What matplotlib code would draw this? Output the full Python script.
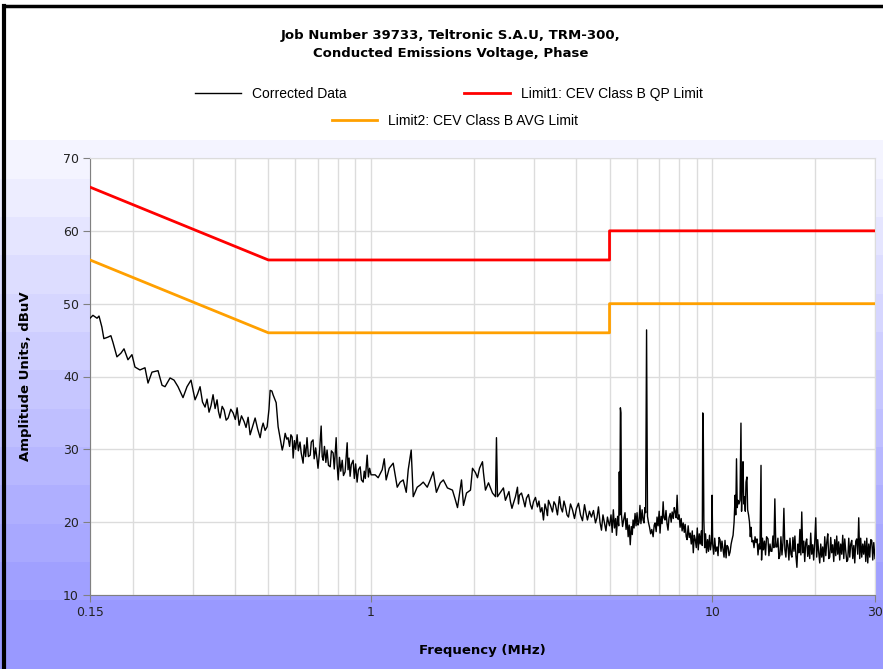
import matplotlib
matplotlib.use("Agg")
import matplotlib.pyplot as plt
import numpy as np

# Corrected data (MHz, dBuV)
low_freq = [0.150, 0.153, 0.1573, 0.1594, 0.1625, 0.1647, 0.1692, 0.1727, 0.1751, 0.1799,
            0.1848, 0.1887, 0.1938, 0.1991, 0.2032, 0.2101, 0.2174, 0.2219, 0.2279, 0.2374,
            0.2439, 0.2489, 0.2575, 0.2645, 0.2717, 0.2810, 0.2887, 0.2966, 0.3048, 0.3100,
            0.3153, 0.3205, 0.3261, 0.3305, 0.3350, 0.3395, 0.3442, 0.3490, 0.3536, 0.3570,
            0.3609, 0.3660, 0.3708, 0.3760, 0.3810, 0.3880, 0.3941, 0.4000, 0.4049, 0.4104,
            0.4170, 0.4245, 0.4300, 0.4361, 0.4420, 0.4500, 0.4572, 0.4650, 0.4730, 0.4780,
            0.4826, 0.4890, 0.4958, 0.5020]
low_dbuv = [48.0, 48.4, 48.0, 48.3, 46.8, 45.2, 45.4, 45.6, 44.7, 42.7,
            43.2, 43.8, 42.3, 43.0, 41.3, 40.9, 41.2, 39.1, 40.6, 40.8,
            38.8, 38.6, 39.8, 39.5, 38.6, 37.1, 38.6, 39.5, 36.8, 37.6,
            38.6, 36.5, 35.8, 36.9, 35.1, 36.0, 37.5, 35.6, 36.8, 35.2,
            34.3, 35.9, 35.4, 34.0, 34.3, 35.5, 35.0, 34.1, 35.7, 33.3,
            34.6, 33.8, 33.0, 34.4, 32.0, 33.2, 34.3, 32.8, 31.6, 32.9,
            33.6, 32.6, 33.1, 35.5]

mid_freq = [0.506, 0.512, 0.516, 0.522, 0.527, 0.534, 0.541, 0.549, 0.553, 0.560,
            0.566, 0.571, 0.577, 0.582, 0.587, 0.591, 0.596, 0.601, 0.607, 0.612,
            0.619, 0.624, 0.632, 0.637, 0.643, 0.649, 0.655, 0.663, 0.668, 0.676,
            0.681, 0.688, 0.695, 0.699, 0.706, 0.714, 0.719, 0.724, 0.730, 0.737,
            0.743, 0.750, 0.759, 0.765, 0.774, 0.780, 0.786, 0.790, 0.795, 0.801,
            0.808, 0.815, 0.823, 0.830, 0.839, 0.845, 0.851, 0.856, 0.862, 0.868,
            0.875, 0.886, 0.893, 0.901, 0.910, 0.918, 0.929, 0.937, 0.948, 0.955,
            0.962, 0.974, 0.982, 0.990, 1.000]
mid_dbuv = [38.1, 38.0, 37.5, 36.9, 36.4, 33.1, 31.6, 29.9, 30.5, 32.2,
            31.4, 31.6, 30.4, 32.0, 31.7, 28.8, 31.2, 30.0, 32.0, 29.8,
            31.0, 29.5, 28.1, 30.6, 29.0, 31.6, 29.0, 29.2, 31.0, 31.3,
            28.7, 30.2, 28.5, 27.4, 29.6, 33.2, 29.0, 28.5, 30.4, 28.2,
            29.9, 27.8, 27.6, 29.8, 29.5, 27.3, 30.0, 31.6, 28.0, 25.8,
            28.9, 27.0, 28.5, 26.4, 26.9, 29.0, 30.9, 27.2, 28.8, 26.3,
            27.9, 28.5, 26.0, 28.0, 25.5, 27.2, 27.6, 25.8, 25.5, 27.0,
            26.0, 29.2, 26.2, 27.4, 26.5]

one_five_freq = [1.028, 1.049, 1.078, 1.093, 1.107, 1.130, 1.161, 1.193, 1.217, 1.242,
                 1.268, 1.285, 1.311, 1.329, 1.365, 1.393, 1.422, 1.461, 1.491, 1.522,
                 1.554, 1.596, 1.629, 1.674, 1.732, 1.768, 1.792, 1.841, 1.866, 1.904,
                 1.956, 1.983, 2.023, 2.051, 2.079, 2.121, 2.135, 2.164, 2.209, 2.269,
                 2.316, 2.331, 2.347, 2.394, 2.443, 2.476, 2.510, 2.536, 2.562, 2.588,
                 2.614, 2.650, 2.686, 2.704, 2.722, 2.760, 2.797, 2.826, 2.854, 2.893,
                 2.932, 2.962, 2.992, 3.033, 3.074, 3.105, 3.137, 3.169, 3.201, 3.234,
                 3.267, 3.289, 3.311, 3.356, 3.402, 3.436, 3.471, 3.518, 3.566, 3.602,
                 3.639, 3.676, 3.714, 3.752, 3.790, 3.842, 3.894, 3.947, 4.000, 4.055,
                 4.110, 4.166, 4.223, 4.265, 4.307, 4.366, 4.425, 4.486, 4.547, 4.593,
                 4.640, 4.688, 4.735, 4.783, 4.831, 4.880, 4.930, 4.965]
one_five_dbuv = [26.5, 26.1, 27.2, 28.7, 25.8, 27.4, 28.1, 24.8, 25.5, 25.8,
                 24.1, 27.2, 29.9, 23.5, 24.8, 25.1, 25.5, 24.8, 25.8, 26.9,
                 24.1, 25.4, 25.8, 24.7, 24.4, 23.0, 22.0, 25.8, 22.3, 24.0,
                 24.4, 27.4, 26.8, 26.1, 27.4, 28.3, 26.8, 24.4, 25.4, 24.0,
                 23.5, 31.6, 23.5, 24.1, 24.7, 23.0, 23.7, 24.2, 22.8, 21.9,
                 22.6, 23.5, 24.8, 22.5, 23.7, 24.0, 23.0, 22.1, 23.3, 23.8,
                 22.4, 21.8, 22.8, 23.4, 22.1, 22.9, 21.4, 22.0, 20.3, 22.5,
                 21.7, 20.9, 23.0, 22.3, 21.4, 22.8, 22.4, 21.0, 23.5, 22.0,
                 21.4, 22.9, 22.1, 21.0, 20.7, 22.5, 21.7, 20.5, 21.9, 22.6,
                 21.0, 20.2, 22.4, 21.3, 20.3, 21.5, 20.7, 21.6, 19.9, 20.6,
                 22.1, 20.0, 18.9, 21.0, 19.9, 18.8, 20.7, 20.0]

five_ten_freq = [5.00, 5.05, 5.09, 5.13, 5.17, 5.21, 5.24, 5.28, 5.32, 5.34,
                 5.36, 5.38, 5.40, 5.42, 5.46, 5.50, 5.55, 5.59, 5.63, 5.67,
                 5.71, 5.75, 5.79, 5.83, 5.86, 5.90, 5.94, 5.98, 6.02, 6.06,
                 6.10, 6.14, 6.18, 6.23, 6.27, 6.31, 6.35, 6.38, 6.42, 6.44,
                 6.46, 6.50, 6.55, 6.60, 6.65, 6.71, 6.76, 6.80, 6.85, 6.89,
                 6.94, 6.99, 7.03, 7.08, 7.13, 7.18, 7.22, 7.27, 7.32, 7.37,
                 7.42, 7.47, 7.53, 7.58, 7.63, 7.69, 7.74, 7.79, 7.84, 7.89,
                 7.94, 8.00, 8.05, 8.11, 8.16, 8.22, 8.28, 8.33, 8.39, 8.44,
                 8.50, 8.56, 8.62, 8.68, 8.74, 8.80, 8.86, 8.92, 8.98, 9.04,
                 9.10, 9.16, 9.22, 9.29, 9.35, 9.38, 9.41, 9.45, 9.50, 9.56,
                 9.62, 9.69, 9.75, 9.82, 9.88, 9.95, 9.99]
five_ten_dbuv = [19.5, 21.0, 18.6, 21.7, 19.2, 20.5, 18.2, 20.8, 19.5, 26.9,
                 21.0, 35.7, 35.0, 21.0, 19.4, 20.3, 21.3, 19.0, 20.5, 18.0,
                 19.6, 16.9, 19.4, 18.3, 20.3, 19.2, 21.2, 19.5, 21.3, 19.6,
                 20.0, 22.3, 19.8, 21.7, 20.3, 19.9, 22.0, 21.3, 46.4, 33.3,
                 20.8, 20.0, 19.3, 18.4, 19.0, 18.0, 19.6, 19.9, 18.7, 20.7,
                 19.5, 21.5, 18.5, 20.8, 19.8, 22.8, 20.6, 20.3, 21.6, 19.8,
                 18.9, 20.6, 21.2, 20.0, 21.4, 20.5, 22.0, 21.4, 20.6, 23.7,
                 20.4, 21.0, 19.3, 20.5, 18.8, 19.9, 18.6, 19.7, 18.0, 17.6,
                 19.5, 17.9, 18.5, 17.0, 18.8, 15.8, 18.2, 17.6, 16.5, 19.2,
                 16.2, 18.4, 17.0, 18.8, 16.8, 35.0, 34.3, 20.3, 16.5, 18.4,
                 15.8, 17.6, 16.0, 18.2, 16.2, 17.3, 23.7]

high_freq = [10.03, 10.10, 10.17, 10.24, 10.33, 10.40, 10.47, 10.54, 10.61, 10.68,
             10.76, 10.83, 10.90, 10.98, 11.05, 11.13, 11.20, 11.28, 11.36, 11.43,
             11.51, 11.59, 11.67, 11.72, 11.78, 11.84, 11.90, 11.98, 12.06, 12.14,
             12.19, 12.25, 12.31, 12.37, 12.43, 12.50, 12.56, 12.64, 12.70, 12.78,
             12.86, 12.93, 12.99, 13.08, 13.17, 13.26, 13.35, 13.44, 13.53, 13.62,
             13.71, 13.80, 13.90, 13.95, 14.04, 14.13, 14.23, 14.33, 14.43, 14.57,
             14.66, 14.77, 14.86, 14.96, 15.06, 15.16, 15.26, 15.36, 15.47, 15.58,
             15.68, 15.79, 15.90, 16.01, 16.12, 16.22, 16.33, 16.44, 16.55, 16.66,
             16.78, 16.90, 17.01, 17.12, 17.24, 17.36, 17.47, 17.59, 17.71, 17.83,
             17.95, 18.07, 18.19, 18.30, 18.42, 18.55, 18.67, 18.80, 18.92, 19.05,
             19.18, 19.31, 19.44, 19.57, 19.70, 19.83, 19.97, 20.11, 20.24, 20.38,
             20.52, 20.66, 20.80, 20.94, 21.08, 21.23, 21.37, 21.52, 21.66, 21.81,
             21.96, 22.10, 22.25, 22.40, 22.55, 22.71, 22.86, 23.02, 23.17, 23.33,
             23.48, 23.64, 23.80, 23.97, 24.13, 24.30, 24.46, 24.63, 24.80, 24.96,
             25.13, 25.30, 25.47, 25.64, 25.82, 26.00, 26.17, 26.35, 26.52, 26.70,
             26.88, 27.06, 27.24, 27.43, 27.62, 27.80, 28.00, 28.19, 28.38, 28.57,
             28.76, 28.96, 29.15, 29.35, 29.55, 29.75, 30.0]
high_dbuv = [17.0, 15.6, 17.8, 16.0, 16.6, 15.4, 17.9, 17.6, 16.0, 17.4,
             16.2, 15.2, 17.5, 15.1, 16.8, 16.6, 15.4, 15.9, 17.0, 17.6,
             18.2, 20.0, 23.7, 21.0, 28.7, 22.0, 23.0, 22.5, 23.0, 33.6,
             21.5, 26.0, 28.3, 22.5, 23.5, 21.5, 25.5, 26.2, 21.7, 21.0,
             20.0, 18.0, 19.3, 17.3, 17.5, 16.5, 18.0, 17.2, 17.7, 15.5,
             17.0, 16.3, 27.8, 14.8, 17.8, 16.2, 17.4, 15.5, 18.0, 17.7,
             15.4, 17.0, 16.0, 16.0, 18.1, 16.5, 23.2, 16.6, 16.6, 17.8,
             15.0, 15.4, 18.0, 15.5, 17.2, 21.9, 16.2, 15.2, 17.5, 16.9,
             14.8, 17.8, 15.6, 15.2, 17.9, 16.0, 18.1, 15.4, 13.8, 17.0,
             15.8, 19.0, 15.5, 21.4, 15.8, 17.4, 14.6, 17.2, 17.7, 15.3,
             16.8, 15.0, 18.5, 15.6, 16.9, 14.8, 17.2, 20.6, 15.2, 17.6,
             15.8, 14.4, 17.0, 15.2, 16.6, 14.6, 18.0, 15.4, 17.2, 18.4,
             15.0, 15.2, 17.9, 15.8, 16.9, 14.6, 17.6, 15.4, 18.1, 15.6,
             17.3, 14.8, 17.0, 15.6, 18.2, 15.0, 17.7, 16.0, 14.6, 14.8,
             17.8, 15.2, 17.0, 17.5, 15.0, 16.8, 14.4, 17.4, 17.7, 15.6,
             20.6, 15.0, 17.8, 15.2, 17.0, 15.6, 17.4, 14.6, 17.8, 14.4,
             17.0, 15.2, 17.6, 17.5, 14.8, 17.2, 15.0]

freq_mhz = low_freq + mid_freq + one_five_freq + five_ten_freq + high_freq
corrected_dbuv = low_dbuv + mid_dbuv + one_five_dbuv + five_ten_dbuv + high_dbuv

# CISPR 22 Class B limits
qp_freq = [0.15, 0.5, 5.0, 5.0, 30.0]
qp_limit = [66, 56, 56, 60, 60]
avg_freq = [0.15, 0.5, 5.0, 5.0, 30.0]
avg_limit = [56, 46, 46, 50, 50]

x_ticks = [0.15, 1, 10, 30]
x_tick_labels = ["0.15", "1", "10", "30"]
x_minor = [0.2, 0.3, 0.4, 0.5, 0.6, 0.7, 0.8, 0.9, 2, 3, 4, 5, 6, 7, 8, 9, 20]
y_ticks = [10, 20, 30, 40, 50, 60, 70]

fig = plt.figure(figsize=(8.83, 6.69), dpi=100)

# background: white header, banded blue gradient below
bg = fig.add_axes([0, 0, 1, 1], zorder=-10)
H = 669
rows = np.ones((H, 1, 3))
top_px, bot_px = 140, 600
for r in range(top_px, H):
    t = min((r - top_px) / (bot_px - top_px), 1.0)
    t = np.floor(t * 12) / 12
    rows[r, 0, :] = np.array([0.96, 0.96, 1.0]) * (1 - t) + np.array([0.60, 0.60, 1.0]) * t
bg.imshow(rows, aspect="auto", extent=[0, 1, 0, 1], origin="upper")
bg.set_xlim(0, 1)
bg.set_ylim(0, 1)
bg.axis("off")
# black frame on left and top
bg.plot([0.004, 0.004], [0, 0.991], color="black", lw=3)
bg.plot([0.004, 1], [0.991, 0.991], color="black", lw=2.5)

ax = fig.add_axes([90 / 883, 1 - 595 / 669, 785 / 883, 437 / 669])
ax.set_facecolor("white")

ax.plot(freq_mhz, corrected_dbuv, color="black", lw=1.0, label="Corrected Data", zorder=3)
ax.plot(qp_freq, qp_limit, color="#FF0000", lw=2.0, label="Limit1: CEV Class B QP Limit", zorder=4)
ax.plot(avg_freq, avg_limit, color="#FFA000", lw=2.0, label="Limit2: CEV Class B AVG Limit", zorder=4)

ax.set_xscale("log")
ax.set_xlim(0.15, 30)
ax.set_ylim(10, 70)
ax.set_xticks(x_ticks)
ax.set_xticklabels(x_tick_labels)
ax.set_xticks(x_minor, minor=True)
ax.xaxis.set_minor_formatter(plt.NullFormatter())
ax.set_yticks(y_ticks)
ax.tick_params(axis="both", which="major", direction="out", length=5, color="#808080",
               labelsize=9, labelcolor="#222222", pad=3)
ax.tick_params(axis="x", which="minor", length=0)
ax.grid(which="both", color="#DCDCDC", lw=1.0)
ax.set_axisbelow(True)
for s in ["top", "right"]:
    ax.spines[s].set_color("#DCDCDC")
for s in ["left", "bottom"]:
    ax.spines[s].set_color("#808080")

ax.set_xlabel("Frequency (MHz)", fontsize=9.5, fontweight="bold", labelpad=18)
ax.set_ylabel("Amplitude Units, dBuV", fontsize=9.5, fontweight="bold", labelpad=22)

fig.text(0.51, 1 - 36 / 669, "Job Number 39733, Teltronic S.A.U, TRM-300,",
         ha="center", va="center", fontsize=9.5, fontweight="bold")
fig.text(0.51, 1 - 53 / 669, "Conducted Emissions Voltage, Phase",
         ha="center", va="center", fontsize=9.5, fontweight="bold")

legend_font = {"family": ["Liberation Sans Narrow", "Liberation Sans"], "size": 10}
h = ax.get_lines()
fig.legend(handles=h[:2], loc="center", bbox_to_anchor=(449 / 883, 1 - 94 / 669),
           ncol=2, frameon=False, prop=legend_font, handlelength=3.3,
           handletextpad=0.8, columnspacing=8.5)
fig.legend(handles=h[2:], loc="center", bbox_to_anchor=(455 / 883, 1 - 121 / 669),
           frameon=False, prop=legend_font, handlelength=3.3, handletextpad=0.8)

fig.savefig("out.png", dpi=100)
